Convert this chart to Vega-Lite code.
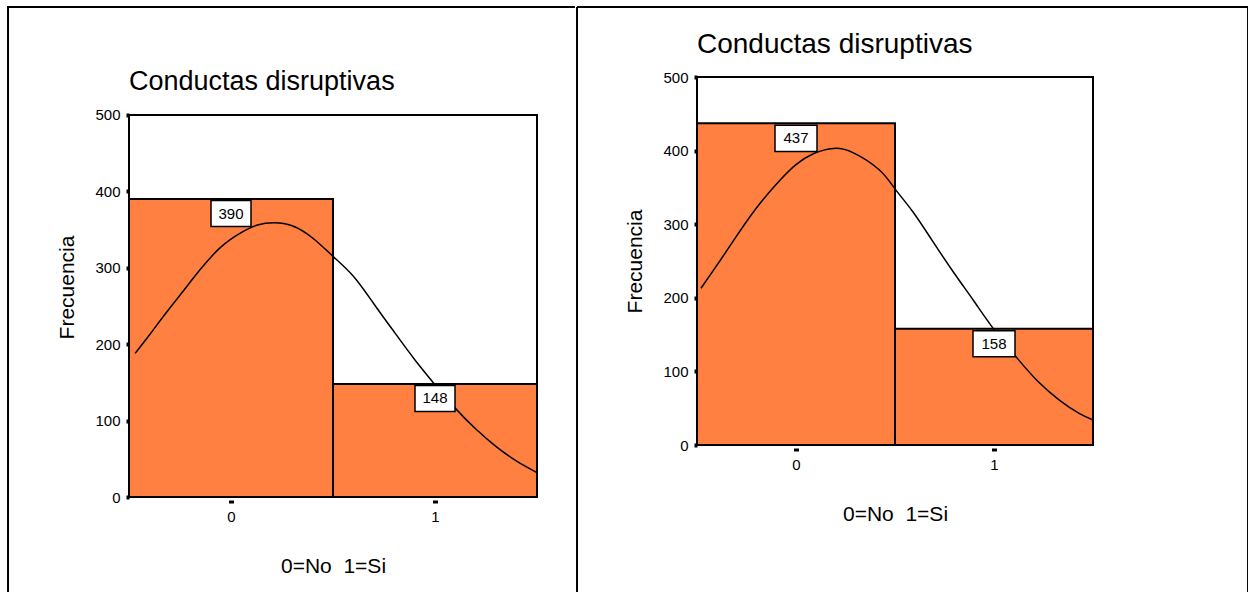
{
  "$schema": "https://vega.github.io/schema/vega-lite/v6.json",
  "padding": {"left": 6, "top": 5, "right": 0, "bottom": 0},
  "background": "white",
  "spacing": -1,
  "datasets": {
    "leftBars": [
      {"bin": 0, "lo": -0.5, "hi": 0.5, "n": 390},
      {"bin": 1, "lo": 0.5, "hi": 1.5, "n": 148}
    ],
    "leftCurve": [
      {"x": -0.47, "y": 188}, {"x": -0.40, "y": 212}, {"x": -0.33, "y": 237}, {"x": -0.23, "y": 271},
      {"x": -0.15, "y": 298}, {"x": -0.05, "y": 327}, {"x": 0.05, "y": 346}, {"x": 0.13, "y": 356},
      {"x": 0.21, "y": 359}, {"x": 0.30, "y": 355}, {"x": 0.40, "y": 339}, {"x": 0.50, "y": 315},
      {"x": 0.60, "y": 289}, {"x": 0.70, "y": 253}, {"x": 0.80, "y": 216}, {"x": 0.90, "y": 180},
      {"x": 1.00, "y": 147}, {"x": 1.10, "y": 116}, {"x": 1.20, "y": 89}, {"x": 1.30, "y": 66},
      {"x": 1.40, "y": 47}, {"x": 1.50, "y": 32}
    ],
    "rightBars": [
      {"bin": 0, "lo": -0.5, "hi": 0.5, "n": 437},
      {"bin": 1, "lo": 0.5, "hi": 1.5, "n": 158}
    ],
    "rightCurve": [
      {"x": -0.48, "y": 213}, {"x": -0.40, "y": 244}, {"x": -0.32, "y": 276}, {"x": -0.20, "y": 322},
      {"x": -0.08, "y": 360}, {"x": 0.00, "y": 381}, {"x": 0.09, "y": 396}, {"x": 0.19, "y": 403},
      {"x": 0.29, "y": 397}, {"x": 0.42, "y": 374}, {"x": 0.50, "y": 348}, {"x": 0.59, "y": 317},
      {"x": 0.69, "y": 277}, {"x": 0.80, "y": 233}, {"x": 0.90, "y": 195}, {"x": 1.00, "y": 157},
      {"x": 1.12, "y": 117}, {"x": 1.22, "y": 87}, {"x": 1.33, "y": 61}, {"x": 1.43, "y": 43},
      {"x": 1.50, "y": 34}
    ]
  },
  "hconcat": [
    {
      "width": 408,
      "height": 420,
      "view": {"stroke": null},
      "title": {"text": "Conductas disruptivas", "anchor": "start", "frame": "group", "fontSize": 27, "font": "Liberation Sans", "fontWeight": "normal", "color": "black", "baseline": "alphabetic", "offset": -111},
      "layer": [
        {
          "data": {"name": "leftBars"},
          "mark": {"type": "rect", "fill": "#FF8040", "stroke": "black", "strokeWidth": 2},
          "encoding": {
            "x": {"field": "lo", "type": "quantitative", "title": "0=No\u00a0 1=Si", "scale": {"domain": [-0.5, 1.5], "nice": false, "zero": false}, "axis": {"values": [0, 1], "format": "d"}},
            "x2": {"field": "hi"},
            "y": {"field": "n", "type": "quantitative", "title": "Frecuencia", "scale": {"domain": [0, 549.7], "nice": false}, "axis": {"values": [0, 100, 200, 300, 400, 500]}},
            "y2": {"datum": 0}
          }
        },
        {
          "data": {"name": "leftCurve"},
          "mark": {"type": "line", "color": "black", "strokeWidth": 1.5, "interpolate": "natural"},
          "encoding": {
            "x": {"field": "x", "type": "quantitative", "title": "0=No\u00a0 1=Si"},
            "y": {"field": "y", "type": "quantitative", "title": "Frecuencia"}
          }
        },
        {
          "data": {"name": "leftBars"},
          "mark": {"type": "point", "shape": "M-1,-0.65L1,-0.65L1,0.65L-1,0.65Z", "size": 1600, "filled": true, "fill": "white", "stroke": "black", "strokeWidth": 1.5, "opacity": 1, "yOffset": 14.5},
          "encoding": {
            "x": {"field": "bin", "type": "quantitative", "title": "0=No\u00a0 1=Si"},
            "y": {"field": "n", "type": "quantitative", "title": "Frecuencia"}
          }
        },
        {
          "data": {"name": "leftBars"},
          "mark": {"type": "text", "font": "Liberation Sans", "fontSize": 15, "color": "black", "baseline": "middle", "align": "center", "dy": 14.5},
          "encoding": {
            "x": {"field": "bin", "type": "quantitative", "title": "0=No\u00a0 1=Si"},
            "y": {"field": "n", "type": "quantitative", "title": "Frecuencia"},
            "text": {"field": "n", "type": "quantitative"}
          }
        },
        {
          "data": {"values": [{}]},
          "mark": {"type": "rect", "fill": null, "filled": false, "stroke": "black", "strokeWidth": 2},
          "encoding": {"x": {"datum": -0.5}, "x2": {"datum": 1.5}, "y": {"datum": 0}, "y2": {"datum": 500}}
        },
        {
          "data": {"values": [{}]},
          "mark": {"type": "rule", "color": "black", "strokeWidth": 2},
          "encoding": {"x": {"datum": -1.093}, "y": {"datum": 641.4}, "y2": {"datum": -134.8}}
        },
        {
          "data": {"values": [{}]},
          "mark": {"type": "rule", "color": "black", "strokeWidth": 2},
          "encoding": {"x": {"datum": -1.098}, "x2": {"datum": 1.686}, "y": {"datum": 641.4}}
        }
      ]
    },
    {
      "width": 396,
      "height": 368,
      "title": {"text": "Conductas disruptivas", "anchor": "start", "frame": "group", "fontSize": 28, "font": "Liberation Sans", "fontWeight": "normal", "color": "black", "baseline": "alphabetic", "offset": -75},
      "layer": [
        {
          "data": {"name": "rightBars"},
          "mark": {"type": "rect", "fill": "#FF8040", "stroke": "black", "strokeWidth": 2},
          "encoding": {
            "x": {"field": "lo", "type": "quantitative", "title": "0=No\u00a0 1=Si", "scale": {"domain": [-0.5, 1.5], "nice": false, "zero": false}, "axis": {"values": [0, 1], "format": "d"}},
            "x2": {"field": "hi"},
            "y": {"field": "n", "type": "quantitative", "title": "Frecuencia", "scale": {"domain": [0, 500], "nice": false}, "axis": {"values": [0, 100, 200, 300, 400, 500]}},
            "y2": {"datum": 0}
          }
        },
        {
          "data": {"name": "rightCurve"},
          "mark": {"type": "line", "color": "black", "strokeWidth": 1.5, "interpolate": "natural"},
          "encoding": {
            "x": {"field": "x", "type": "quantitative", "title": "0=No\u00a0 1=Si"},
            "y": {"field": "y", "type": "quantitative", "title": "Frecuencia"}
          }
        },
        {
          "data": {"name": "rightBars"},
          "mark": {"type": "point", "shape": "M-1,-0.62L1,-0.62L1,0.62L-1,0.62Z", "size": 1764, "filled": true, "fill": "white", "stroke": "black", "strokeWidth": 1.5, "opacity": 1, "yOffset": 15},
          "encoding": {
            "x": {"field": "bin", "type": "quantitative", "title": "0=No\u00a0 1=Si"},
            "y": {"field": "n", "type": "quantitative", "title": "Frecuencia"}
          }
        },
        {
          "data": {"name": "rightBars"},
          "mark": {"type": "text", "font": "Liberation Sans", "fontSize": 15, "color": "black", "baseline": "middle", "align": "center", "dy": 15},
          "encoding": {
            "x": {"field": "bin", "type": "quantitative", "title": "0=No\u00a0 1=Si"},
            "y": {"field": "n", "type": "quantitative", "title": "Frecuencia"},
            "text": {"field": "n", "type": "quantitative"}
          }
        },
        {
          "data": {"values": [{}]},
          "mark": {"type": "rule", "color": "black", "strokeWidth": 2},
          "encoding": {"x": {"datum": -1.106}, "y": {"datum": 595.1}, "y2": {"datum": -210}}
        },
        {
          "data": {"values": [{}]},
          "mark": {"type": "rule", "color": "black", "strokeWidth": 2},
          "encoding": {"x": {"datum": -1.106}, "x2": {"datum": 2.288}, "y": {"datum": 595.1}}
        },
        {
          "data": {"values": [{}]},
          "mark": {"type": "rule", "color": "black", "strokeWidth": 2},
          "encoding": {"x": {"datum": 2.283}, "y": {"datum": 595.1}, "y2": {"datum": -210}}
        }
      ]
    }
  ],
  "config": {
    "font": "Liberation Sans",
    "view": {"stroke": "black", "strokeWidth": 2},
    "axis": {"grid": false, "domain": false, "labelFont": "Liberation Sans", "labelColor": "black", "labelFontSize": 15, "titleFont": "Liberation Sans", "titleFontWeight": "normal", "titleFontSize": 21, "titleColor": "black", "tickColor": "black"},
    "axisX": {"offset": 3, "tickSize": 3, "tickWidth": 5, "labelPadding": 6, "titlePadding": 31, "labelAngle": 0},
    "axisY": {"tickSize": 3, "tickWidth": 4, "labelPadding": 6, "titlePadding": 17}
  }
}
